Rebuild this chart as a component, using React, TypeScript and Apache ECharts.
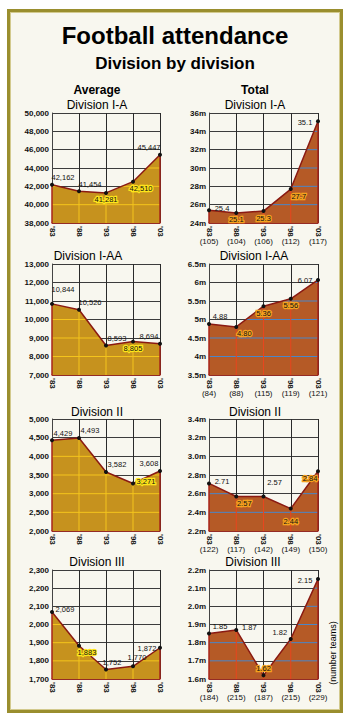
import React, { useEffect, useRef } from 'react';
import * as echarts from 'echarts';

// ---------- data ----------
const years = ["'83", "'88", "'93", "'98", "'03"];

const avgIA = [42162, 41454, 41281, 42510, 45447];
const avgIAA = [10844, 10526, 8593, 8805, 8694];
const avgII = [4429, 4493, 3582, 3271, 3608];
const avgIII = [2069, 1883, 1752, 1770, 1872];

const totIA = [25.4, 25.1, 25.3, 27.7, 35.1];
const totIAA = [4.88, 4.8, 5.36, 5.56, 6.07];
const totII = [2.71, 2.57, 2.57, 2.44, 2.84];
const totIII = [1.85, 1.87, 1.62, 1.82, 2.15];

const teamsIA = [105, 104, 106, 112, 117];
const teamsIAA = [84, 88, 115, 119, 121];
const teamsII = [122, 117, 142, 149, 150];
const teamsIII = [184, 215, 187, 215, 229];

// label placement codes ("+" = highlighted label inside the area)
const placeAvgIA = ['tr', 'tr', 'b+', 'br+', 'tl'];
const placeAvgIAA = ['trH', 'tr', 'tr', 'b+', 'tl'];
const placeAvgII = ['tr', 'tr', 'tr', 'r+', 'tl'];
const placeAvgIII = ['r', 'br+', 'trS', 'tS', 'l'];
const placeTotIA = ['r', 'b+', 'b+', 'br+', 'l'];
const placeTotIAA = ['tr', 'br+', 'b+', 'b+', 'l'];
const placeTotII = ['r', 'br+', 'trH', 'bH+', 'bl+'];
const placeTotIII = ['tr', 'r', 't+', 'tl', 'l'];

// ---------- styling ----------
const NARROW = "'Liberation Sans Narrow', 'Liberation Sans', Arial, sans-serif";
const SANS = "'Liberation Sans', Arial, Helvetica, sans-serif";

const OFFSETS: Record<string, number[]> = {
  tr: [11, -7],
  trS: [6, -7],
  tl: [-11, -7],
  trH: [11, -14],
  r: [13, -2],
  l: [-13, 1],
  b: [0, 7],
  bH: [0, 13],
  br: [8, 7],
  bl: [-8, 7],
  t: [0, -7],
  tS: [4, -9],
};

const GOLD = '#c6921e';
const BROWN = '#b55a26';

type Panel = {
  vals: number[];
  min: number;
  max: number;
  interval: number;
  fmtY: (v: number) => string;
  fmtL: (v: number) => string;
  places: string[];
  teams?: number[];
  col: number;
  row: number;
};

const comma = (v: number) => Math.round(v).toLocaleString('en-US');

const panels: Panel[] = [
  { vals: avgIA, min: 38000, max: 50000, interval: 2000, fmtY: comma, fmtL: comma, places: placeAvgIA, col: 0, row: 0 },
  { vals: totIA, min: 24, max: 36, interval: 2, fmtY: (v) => `${Math.round(v)}m`, fmtL: (v) => v.toFixed(1), places: placeTotIA, teams: teamsIA, col: 1, row: 0 },
  { vals: avgIAA, min: 7000, max: 13000, interval: 1000, fmtY: comma, fmtL: comma, places: placeAvgIAA, col: 0, row: 1 },
  { vals: totIAA, min: 3.5, max: 6.5, interval: 0.5, fmtY: (v) => `${Math.round(v * 10) / 10}m`, fmtL: (v) => v.toFixed(2), places: placeTotIAA, teams: teamsIAA, col: 1, row: 1 },
  { vals: avgII, min: 2000, max: 5000, interval: 500, fmtY: comma, fmtL: comma, places: placeAvgII, col: 0, row: 2 },
  { vals: totII, min: 2.2, max: 3.4, interval: 0.2, fmtY: (v) => `${v.toFixed(1)}m`, fmtL: (v) => v.toFixed(2), places: placeTotII, teams: teamsII, col: 1, row: 2 },
  { vals: avgIII, min: 1700, max: 2300, interval: 100, fmtY: comma, fmtL: comma, places: placeAvgIII, col: 0, row: 3 },
  { vals: totIII, min: 1.6, max: 2.2, interval: 0.1, fmtY: (v) => `${v.toFixed(1)}m`, fmtL: (v) => v.toFixed(2), places: placeTotIII, teams: teamsIII, col: 1, row: 3 },
];

const ROW_TOPS = [113, 264, 419, 570];
const ROW_HEIGHTS = [110, 111, 112, 109];

function buildOption() {
  const grid: any[] = [];
  const xAxis: any[] = [];
  const yAxis: any[] = [];
  const series: any[] = [];

  panels.forEach((p, gi) => {
    const right = p.col === 1;
    grid.push({
      left: right ? 209 : 52,
      width: right ? 109 : 108,
      top: ROW_TOPS[p.row],
      height: ROW_HEIGHTS[p.row],
      containLabel: false,
    });
    const xi = xAxis.length;
    xAxis.push({
      type: 'category',
      gridIndex: gi,
      data: years,
      boundaryGap: false,
      axisLine: { show: true, lineStyle: { color: '#b3261e', width: 1.5 } },
      axisTick: { show: false },
      axisLabel: {
        rotate: -90,
        fontSize: 8,
        fontFamily: NARROW,
        fontWeight: 'bold',
        color: '#111',
        margin: 3,
        interval: 0,
      },
      splitLine: { show: true, lineStyle: { color: '#2a2a2a', width: 1 } },
      z: 0,
    });
    if (p.teams) {
      xAxis.push({
        type: 'category',
        gridIndex: gi,
        data: p.teams.map((t) => `(${t})`),
        boundaryGap: false,
        position: 'bottom',
        offset: 13,
        axisLine: { show: false },
        axisTick: { show: false },
        axisLabel: { fontSize: 8, fontFamily: NARROW, color: '#111', margin: 1, interval: 0 },
        splitLine: { show: false },
      });
    }
    yAxis.push({
      type: 'value',
      gridIndex: gi,
      min: p.min,
      max: p.max,
      interval: p.interval,
      axisLine: { show: true, lineStyle: { color: '#444', width: 1 } },
      axisTick: { show: false },
      axisLabel: {
        formatter: (v: number) => p.fmtY(v),
        fontSize: 8,
        fontFamily: NARROW,
        fontWeight: 'bold',
        color: '#111',
        margin: 3,
      },
      splitLine: { show: true, lineStyle: { color: '#3c3c3c', width: 1 } },
    });

    const fill = right ? BROWN : GOLD;
    const hLineColor = right ? '#4a86c8' : '#f4c41c';
    const vLineColor = right ? '#e8461e' : '#f4c41c';
    const hiColor = right ? '#f6a21e' : '#ffe61a';

    // area fill
    series.push({
      type: 'line',
      xAxisIndex: xi,
      yAxisIndex: gi,
      data: p.vals,
      symbol: 'none',
      lineStyle: { width: 0 },
      areaStyle: { color: fill, opacity: 1, origin: 'start' },
      z: 1,
      silent: true,
    });

    // coloured grid lines inside the filled area
    const vals = p.vals;
    series.push({
      type: 'custom',
      xAxisIndex: xi,
      yAxisIndex: gi,
      data: [[0, p.min]],
      silent: true,
      z: 2,
      renderItem: (_params: any, api: any) => {
        const children: any[] = [];
        const n = vals.length;
        const levels: number[] = [];
        for (let k = 1; p.min + k * p.interval < p.max - 1e-9; k++) {
          levels.push(p.min + k * p.interval);
        }
        levels.forEach((L) => {
          for (let i = 0; i < n - 1; i++) {
            const a = vals[i];
            const b = vals[i + 1];
            if (a < L && b < L) continue;
            let t0 = 0;
            let t1 = 1;
            if (a >= L && b < L) t1 = (a - L) / (a - b);
            else if (a < L && b >= L) t0 = (L - a) / (b - a);
            const p0 = api.coord([i, L]);
            const p1 = api.coord([i + 1, L]);
            children.push({
              type: 'line',
              shape: {
                x1: p0[0] + (p1[0] - p0[0]) * t0,
                y1: p0[1],
                x2: p0[0] + (p1[0] - p0[0]) * t1,
                y2: p0[1],
              },
              style: { stroke: hLineColor, lineWidth: 1 },
            });
          }
        });
        for (let i = 0; i < n; i++) {
          const b0 = api.coord([i, p.min]);
          const b1 = api.coord([i, vals[i]]);
          const edge = i === 0 || i === n - 1;
          children.push({
            type: 'line',
            shape: { x1: b0[0], y1: b0[1], x2: b1[0], y2: b1[1] },
            style: { stroke: edge ? '#a8241a' : vLineColor, lineWidth: edge ? 1.5 : 1 },
          });
        }
        return { type: 'group', children };
      },
    });

    // outline, points and labels
    series.push({
      type: 'line',
      xAxisIndex: xi,
      yAxisIndex: gi,
      data: vals.map((v, i) => {
        const code = p.places[i];
        const hi = code.endsWith('+');
        const off = OFFSETS[code.replace('+', '')];
        return {
          value: v,
          label: {
            show: true,
            position: 'inside',
            offset: off,
            align: 'center',
            verticalAlign: 'middle',
            fontSize: 7.5,
            fontFamily: NARROW,
            color: '#111',
            textBorderColor: hi ? hiColor : 'transparent',
            textBorderWidth: hi ? 2.5 : 0,
            formatter: () => p.fmtL(v),
          },
        };
      }),
      symbol: 'circle',
      symbolSize: 4,
      itemStyle: { color: '#111' },
      lineStyle: { color: '#8a1a12', width: 1.5 },
      z: 3,
      silent: true,
    });
  });

  const t = (text: string, x: number, y: number, size: number, weight: string, rotation = 0) => ({
    type: 'text',
    x,
    y,
    rotation,
    style: {
      text,
      fontSize: size,
      fontWeight: weight,
      fontFamily: SANS,
      fill: '#000',
      textAlign: 'center',
      textVerticalAlign: 'middle',
    },
  });

  const graphic = [
    t('Football attendance', 175, 35, 24, 'bold'),
    t('Division by division', 175, 63, 17, 'bold'),
    t('Average', 97, 90, 12, 'bold'),
    t('Division I-A', 97, 105, 12, 'normal'),
    t('Total', 255, 90, 12, 'bold'),
    t('Division I-A', 255, 105, 12, 'normal'),
    t('Division I-AA', 88, 256, 12, 'normal'),
    t('Division I-AA', 254, 256, 12, 'normal'),
    t('Division II', 97, 412, 12, 'normal'),
    t('Division II', 255, 412, 12, 'normal'),
    t('Division III', 97, 562, 12, 'normal'),
    t('Division III', 253, 562, 12, 'normal'),
    t('(number teams)', 333, 653, 9, 'normal', Math.PI / 2),
  ];

  return {
    animation: false,
    backgroundColor: 'transparent',
    grid,
    xAxis,
    yAxis,
    series,
    graphic,
  };
}

export default function App() {
  const ref = useRef<HTMLDivElement>(null);
  useEffect(() => {
    if (!ref.current) return;
    const chart = echarts.init(ref.current, undefined, { renderer: 'svg' });
    chart.setOption(buildOption() as any);
    return () => chart.dispose();
  }, []);
  return (
    <div style={{ position: 'fixed', left: 0, top: 0, width: 350, height: 722, background: '#ffffff' }}>
      <div
        style={{
          position: 'absolute',
          left: 7,
          top: 9,
          width: 336,
          height: 704,
          boxSizing: 'border-box',
          border: '3px solid #9a8e2e',
          boxShadow: 'inset 0 0 0 1px #d3ca8e',
          background: '#f8f7ef',
        }}
      />
      <div ref={ref} style={{ position: 'absolute', left: 0, top: 0, width: 350, height: 722 }} />
    </div>
  );
}
